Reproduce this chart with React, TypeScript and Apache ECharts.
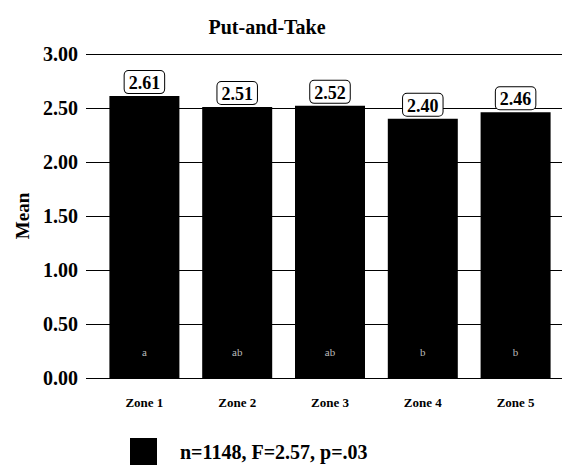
import React, { useEffect, useRef } from "react";
import * as echarts from "echarts";

const title = "Put-and-Take";
const categories = ["Zone 1", "Zone 2", "Zone 3", "Zone 4", "Zone 5"];
const means = [2.61, 2.51, 2.52, 2.4, 2.46];
const groupLetters = ["a", "ab", "ab", "b", "b"];
const seriesName = "n=1148, F=2.57, p=.03";
const yAxisName = "Mean";
const yMin = 0;
const yMax = 3;
const yStep = 0.5;

const FONT = "'Liberation Serif', 'Times New Roman', serif";

export default function App() {
  const ref = useRef<HTMLDivElement>(null);
  useEffect(() => {
    if (!ref.current) return;
    const chart = echarts.init(ref.current, null, { renderer: "svg" });
    chart.setOption({
      animation: false,
      backgroundColor: "#ffffff",
      title: {
        text: title,
        left: 262,
        textAlign: "center",
        top: 12,
        textStyle: { fontFamily: FONT, fontWeight: "bold", fontSize: 20, color: "#000" },
      },
      legend: {
        data: [seriesName],
        left: 130,
        top: 438,
        padding: 0,
        icon: "rect",
        itemWidth: 27,
        itemHeight: 27,
        selectedMode: false,
        textStyle: {
          fontFamily: FONT,
          fontWeight: "bold",
          fontSize: 20,
          color: "#000",
          padding: [0, 0, 0, 18],
        },
      },
      grid: [
        { left: 86, right: 0, top: 54, height: 324, containLabel: false },
        { left: 98, width: 468, top: 54, height: 324, containLabel: false },
      ],
      xAxis: [
        { type: "value", gridIndex: 0, show: false, min: 0, max: 1 },
        {
          type: "category",
          gridIndex: 1,
          data: categories,
          axisLine: { show: false },
          axisTick: { show: false },
          axisLabel: {
            margin: 18,
            fontFamily: FONT,
            fontWeight: "bold",
            fontSize: 13,
            color: "#000",
          },
        },
      ],
      yAxis: [
        {
          type: "value",
          gridIndex: 0,
          min: yMin,
          max: yMax,
          interval: yStep,
          name: yAxisName,
          nameLocation: "middle",
          nameRotate: 90,
          nameGap: 52,
          nameTextStyle: { fontFamily: FONT, fontWeight: "bold", fontSize: 19, color: "#000" },
          axisLine: { show: false },
          axisTick: { show: false },
          axisLabel: {
            margin: 8,
            fontFamily: FONT,
            fontWeight: "bold",
            fontSize: 20,
            color: "#000",
            formatter: (v: number) => v.toFixed(2),
          },
          splitLine: { show: true, lineStyle: { color: "#000", width: 1 } },
        },
        { type: "value", gridIndex: 1, min: yMin, max: yMax, show: false },
      ],
      series: [
        {
          name: seriesName,
          type: "bar",
          xAxisIndex: 1,
          yAxisIndex: 1,
          data: means,
          barWidth: 70,
          itemStyle: { color: "#000" },
          z: 3,
          label: {
            show: true,
            position: "top",
            distance: 3,
            formatter: (p: any) => Number(p.value).toFixed(2),
            fontFamily: FONT,
            fontWeight: "bold",
            fontSize: 18,
            color: "#000",
            backgroundColor: "#fff",
            borderColor: "#000",
            borderWidth: 1,
            borderRadius: 4,
            padding: [3, 4, 1, 4],
          },
        },
        {
          name: "letters",
          type: "bar",
          xAxisIndex: 1,
          yAxisIndex: 1,
          data: means,
          barWidth: 70,
          barGap: "-100%",
          itemStyle: { color: "rgba(0,0,0,0)" },
          z: 4,
          label: {
            show: true,
            position: "insideBottom",
            distance: 21,
            formatter: (p: any) => groupLetters[p.dataIndex],
            fontFamily: FONT,
            fontSize: 11,
            color: "#bbbbbb",
          },
        },
      ],
    });
    return () => chart.dispose();
  }, []);
  return <div ref={ref} style={{ width: 562, height: 466, position: "absolute", left: 0, top: 0 }} />;
}
